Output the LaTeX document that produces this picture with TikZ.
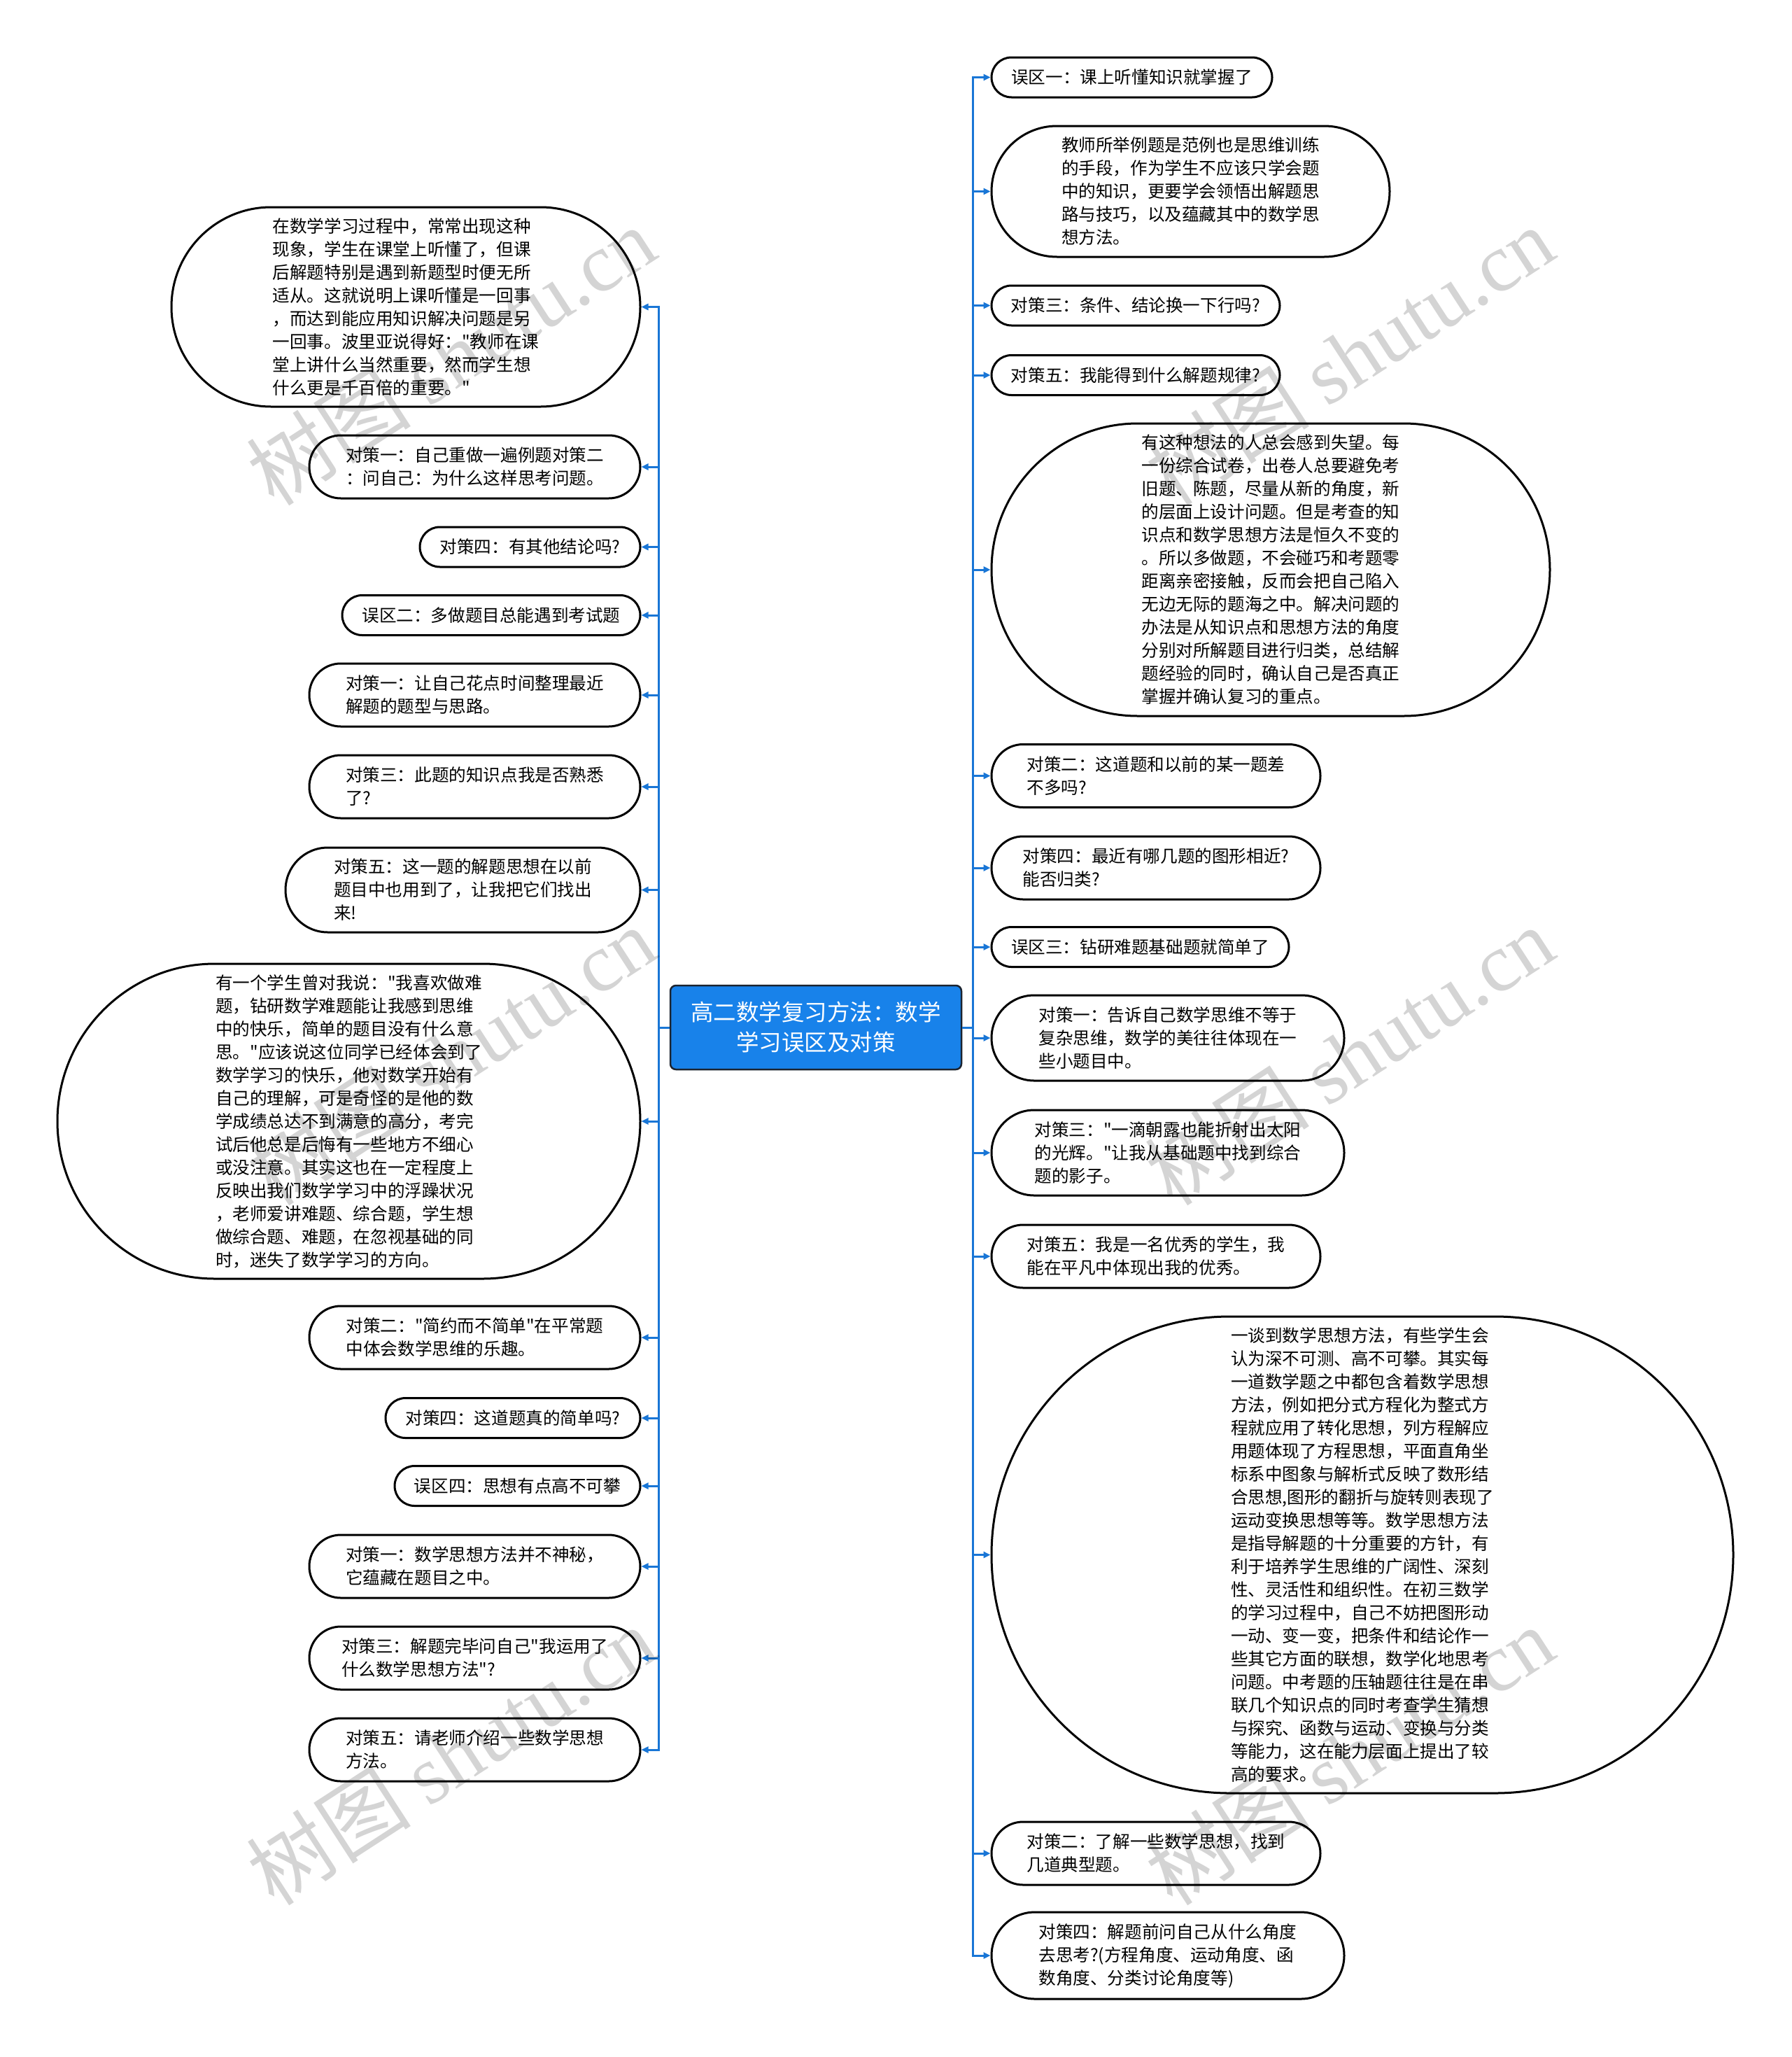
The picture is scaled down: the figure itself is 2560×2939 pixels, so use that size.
\documentclass[tikz,border=0pt]{standalone}
\usepackage{fontspec}
\setmainfont{Noto Sans CJK SC}[Ligatures=TeXOff]
\newfontfamily\wmserif{Liberation Serif}
\newfontfamily\wmcjk{Noto Sans CJK SC}
\usetikzlibrary{arrows.meta}
\definecolor{linkblue}{RGB}{25,118,214}
\definecolor{rootblue}{RGB}{24,130,234}
\definecolor{rootedge}{RGB}{28,36,48}
\begin{document}
\begin{tikzpicture}[x=1pt,y=-1pt,
  pill/.style={draw=black, line width=3pt, fill=white, inner sep=0pt, align=left,
    font=\fontsize{24.6pt}{33pt}\selectfont},
  sz/.style 2 args={minimum width=#1pt, minimum height=#2pt, rounded corners=#2*0.5pt},
  root/.style={draw=rootedge, line width=2.5pt, fill=rootblue, text=white, rounded corners=8pt,
    inner sep=0pt, align=center, minimum width=416pt, minimum height=120pt,
    font=\fontsize{32.5pt}{43pt}\selectfont},
  conn/.style={draw=linkblue, line width=3pt, -{Triangle[length=10pt,width=9pt]}},
  wm/.style={text=black, opacity=0.17, inner sep=0pt, rotate=33,
    font=\fontsize{118pt}{118pt}\selectfont}]
\useasboundingbox (0,0) rectangle (2560,2939);
\fill[white] (0,0) rectangle (2560,2939);

% root
\node[root] (c) at (1166,1468) {高二数学复习方法：数学\\学习误区及对策};

% left side
\node[pill, sz={670}{285}] (L1) at (580,438.5) {在数学学习过程中，常常出现这种\\现象，学生在课堂上听懂了，但课\\后解题特别是遇到新题型时便无所\\适从。这就说明上课听懂是一回事\\，而达到能应用知识解决问题是另\\一回事。波里亚说得好："教师在课\\堂上讲什么当然重要，然而学生想\\什么更是千百倍的重要。"};
\node[pill, sz={473}{90}] (L2) at (678.5,667) {对策一：自己重做一遍例题对策二\\：问自己：为什么这样思考问题。};
\node[pill, sz={315}{57}] (L3) at (757.5,781.5) {对策四：有其他结论吗?};
\node[pill, sz={426}{57}] (L4) at (702,879) {误区二：多做题目总能遇到考试题};
\node[pill, sz={473}{90}] (L5) at (678.5,993) {对策一：让自己花点时间整理最近\\解题的题型与思路。};
\node[pill, sz={473}{90}] (L6) at (678.5,1124) {对策三：此题的知识点我是否熟悉\\了?};
\node[pill, sz={507}{121}] (L7) at (661.5,1271.5) {对策五：这一题的解题思想在以前\\题目中也用到了，让我把它们找出\\来!};
\node[pill, sz={833}{450}] (L8) at (498.5,1602) {有一个学生曾对我说："我喜欢做难\\题，钻研数学难题能让我感到思维\\中的快乐，简单的题目没有什么意\\思。"应该说这位同学已经体会到了\\数学学习的快乐，他对数学开始有\\自己的理解，可是奇怪的是他的数\\学成绩总达不到满意的高分，考完\\试后他总是后悔有一些地方不细心\\或没注意。其实这也在一定程度上\\反映出我们数学学习中的浮躁状况\\，老师爱讲难题、综合题，学生想\\做综合题、难题，在忽视基础的同\\时，迷失了数学学习的方向。};
\node[pill, sz={473}{90}] (L9) at (678.5,1911) {对策二："简约而不简单"在平常题\\中体会数学思维的乐趣。};
\node[pill, sz={364}{57}] (L10) at (733,2026) {对策四：这道题真的简单吗?};
\node[pill, sz={351}{57}] (L11) at (739.5,2123) {误区四：思想有点高不可攀};
\node[pill, sz={473}{90}] (L12) at (678.5,2238) {对策一：数学思想方法并不神秘，\\它蕴藏在题目之中。};
\node[pill, sz={473}{90}] (L13) at (678.5,2369) {对策三：解题完毕问自己"我运用了\\什么数学思想方法"?};
\node[pill, sz={473}{90}] (L14) at (678.5,2500) {对策五：请老师介绍一些数学思想\\方法。};

% right side
\node[pill, sz={401}{57}] (R1) at (1617.5,110.5) {误区一：课上听懂知识就掌握了};
\node[pill, sz={569}{187}] (R2) at (1701.5,273.5) {教师所举例题是范例也是思维训练\\的手段，作为学生不应该只学会题\\中的知识，更要学会领悟出解题思\\路与技巧，以及蕴藏其中的数学思\\想方法。};
\node[pill, sz={412}{57}] (R3) at (1623,436.5) {对策三：条件、结论换一下行吗?};
\node[pill, sz={412}{57}] (R4) at (1623,536) {对策五：我能得到什么解题规律?};
\node[pill, sz={798}{418}] (R5) at (1816,814) {有这种想法的人总会感到失望。每\\一份综合试卷，出卷人总要避免考\\旧题、陈题，尽量从新的角度，新\\的层面上设计问题。但是考查的知\\识点和数学思想方法是恒久不变的\\。所以多做题，不会碰巧和考题零\\距离亲密接触，反而会把自己陷入\\无边无际的题海之中。解决问题的\\办法是从知识点和思想方法的角度\\分别对所解题目进行归类，总结解\\题经验的同时，确认自己是否真正\\掌握并确认复习的重点。};
\node[pill, sz={470}{90}] (R6) at (1652,1108.5) {对策二：这道题和以前的某一题差\\不多吗?};
\node[pill, sz={470}{90}] (R7) at (1652,1240) {对策四：最近有哪几题的图形相近?\\能否归类?};
\node[pill, sz={425}{57}] (R8) at (1629.5,1353) {误区三：钻研难题基础题就简单了};
\node[pill, sz={504}{122}] (R9) at (1669,1483) {对策一：告诉自己数学思维不等于\\复杂思维，数学的美往往体现在一\\些小题目中。};
\node[pill, sz={504}{122}] (R10) at (1669,1647) {对策三："一滴朝露也能折射出太阳\\的光辉。"让我从基础题中找到综合\\题的影子。};
\node[pill, sz={470}{90}] (R11) at (1652,1795) {对策五：我是一名优秀的学生，我\\能在平凡中体现出我的优秀。};
\node[pill, sz={1060}{681}] (R12) at (1947,2221.5) {一谈到数学思想方法，有些学生会\\认为深不可测、高不可攀。其实每\\一道数学题之中都包含着数学思想\\方法，例如把分式方程化为整式方\\程就应用了转化思想，列方程解应\\用题体现了方程思想，平面直角坐\\标系中图象与解析式反映了数形结\\合思想,图形的翻折与旋转则表现了\\运动变换思想等等。数学思想方法\\是指导解题的十分重要的方针，有\\利于培养学生思维的广阔性、深刻\\性、灵活性和组织性。在初三数学\\的学习过程中，自己不妨把图形动\\一动、变一变，把条件和结论作一\\些其它方面的联想，数学化地思考\\问题。中考题的压轴题往往是在串\\联几个知识点的同时考查学生猜想\\与探究、函数与运动、变换与分类\\等能力，这在能力层面上提出了较\\高的要求。};
\node[pill, sz={470}{90}] (R13) at (1652,2648) {对策二：了解一些数学思想，找到\\几道典型题。};
\node[pill, sz={504}{124}] (R14) at (1669,2794) {对策四：解题前问自己从什么角度\\去思考?(方程角度、运动角度、函\\数角度、分类讨论角度等)};

% connectors
\foreach \n in {L1,L2,L3,L4,L5,L6,L7,L8,L9,L10,L11,L12,L13,L14}
  \draw[conn] (c.west) -- ++(-15,0) |- (\n.east);
\foreach \n in {R1,R2,R3,R4,R5,R6,R7,R8,R9,R10,R11,R12,R13,R14}
  \draw[conn] (c.east) -- ++(15,0) |- (\n.west);

% watermarks
\node[wm] (wm1) at (644,508) {{\wmcjk 树图} {\wmserif shutu.cn}};
\node[wm] (wm2) at (1928,508) {{\wmcjk 树图} {\wmserif shutu.cn}};
\node[wm] (wm3) at (644,1508) {{\wmcjk 树图} {\wmserif shutu.cn}};
\node[wm] (wm4) at (1928,1508) {{\wmcjk 树图} {\wmserif shutu.cn}};
\node[wm] (wm5) at (644,2508) {{\wmcjk 树图} {\wmserif shutu.cn}};
\node[wm] (wm6) at (1928,2508) {{\wmcjk 树图} {\wmserif shutu.cn}};
\end{tikzpicture}
\end{document}
